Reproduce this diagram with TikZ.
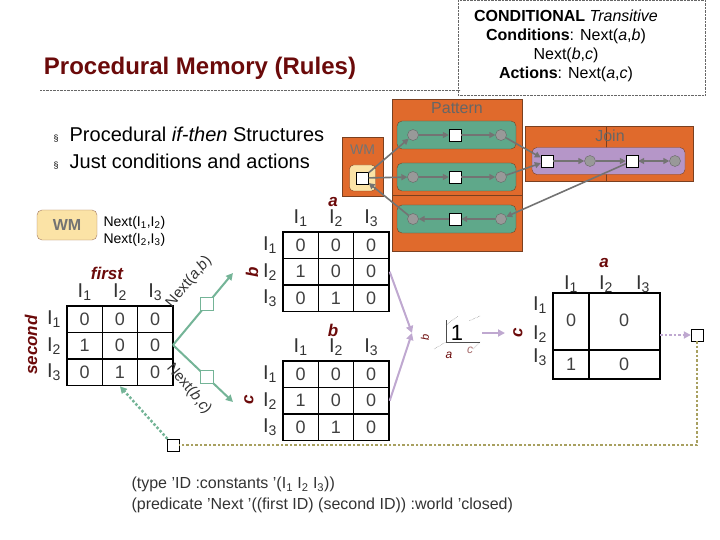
\documentclass[tikz,border=0pt]{standalone}
\usepackage{fontspec}
\setmainfont{Liberation Sans}
\usetikzlibrary{arrows.meta, positioning}
\definecolor{darkred}{HTML}{6B0A0A}
\definecolor{rete}{HTML}{E06A2C}
\definecolor{reteedge}{HTML}{7A4020}
\definecolor{patgreen}{HTML}{5FA88A}
\definecolor{joinpurple}{HTML}{B596C8}
\definecolor{wmcream}{HTML}{FBE3A6}
\definecolor{lilac}{HTML}{BFA8D0}
\definecolor{mint}{HTML}{74B497}
\definecolor{olive}{HTML}{A8A060}
\tikzset{
  cell/.style={draw, line width=1.6pt, minimum width=35.3pt, minimum height=26.5pt, inner sep=0pt, font=\fontsize{18}{18}\selectfont\color{black!75}},
  lab/.style={font=\fontsize{20}{20}\selectfont\color{black!80}},
  var/.style={font=\fontsize{17}{17}\selectfont\bfseries\itshape, text=darkred},
  box/.style={draw=reteedge, fill=rete},
  row/.style={draw=reteedge, fill=patgreen, rounded corners=5pt, minimum width=119pt, minimum height=28pt},
  dot/.style={circle, draw=black!60, fill=black!40, minimum size=11pt, inner sep=0pt},
  sq/.style={draw=black, fill=white, minimum size=12pt, inner sep=0pt},
  flow/.style={draw=black!55, line width=1.6pt, -{Triangle[length=6pt,width=6pt]}},
  small/.style={font=\fontsize{15}{17}\selectfont\color{black!80}}
}
\begin{document}
\begin{tikzpicture}[x=1pt, y=-1pt]
    \useasboundingbox (0,0) rectangle (720,540);

    % Title and rule box
    \node (title) [font=\fontsize{24}{24}\selectfont\bfseries, text=darkred] at (200,68) {Procedural Memory (Rules)};
    \draw [densely dotted, black!60] (40,90) -- (460,90);
    \draw [densely dotted, black!60] (458,0) rectangle (705,95);
    \node (rule) [font=\fontsize{16}{19}\selectfont, align=center] at (566,46)
      {\textbf{CONDITIONAL} \textit{Transitive}\\ \textbf{Conditions}: Next(\textit{a},\textit{b})\\ Next(\textit{b},\textit{c})\\ \textbf{Actions}: Next(\textit{a},\textit{c})};

    % Bullets
    \node (b1) [anchor=west, font=\fontsize{20}{20}\selectfont] at (50,135) {{\small\S}\ \ Procedural \textit{if-then} Structures};
    \node (b2) [anchor=west, font=\fontsize{20}{20}\selectfont] at (50,162) {{\small\S}\ \ Just conditions and actions};

    % Rete network
    \draw [box] (342,137) rectangle (383,196);
    \node (wmlab) [font=\fontsize{14}{14}\selectfont, text=black!55] at (362.5,150) {WM};
    \node (wmin) [draw=reteedge, fill=wmcream, rounded corners=4pt, minimum size=26pt] at (362.5,178) {};
    \node (wm) [sq] at (362.5,178) {};
    \draw [box] (392,99) rectangle (522,195);
    \draw [box] (392,195) rectangle (522,251);
    \node (patlab) [font=\fontsize{16}{16}\selectfont, text=black!60] at (457,108) {Pattern};
    \draw [box] (525,126) rectangle (606,181);
    \draw [box] (606,126) rectangle (693,181);
    \node (joinlab) [font=\fontsize{16}{16}\selectfont, text=black!60] at (610,136) {Join};
    \foreach \r/\y in {1/135, 2/177, 3/219} {
      \node (row\r) [row] at (456.5,\y) {};
      \node (p\r a) [dot] at (413,\y) {};
      \node (p\r b) [sq] at (455,\y) {};
      \node (p\r c) [dot] at (501,\y) {};
    }
    \node (jrow) [draw=reteedge, fill=joinpurple, rounded corners=5pt, minimum width=153pt, minimum height=27pt] at (608.5,161) {};
    \node (j1) [sq] at (547,161) {};
    \node (j2) [dot] at (590,161) {};
    \node (j3) [sq] at (632,161) {};
    \node (j4) [dot] at (675,161) {};
    \draw [flow] (wm) -- (p1a);
    \draw [flow] (wm) -- (p2a);
    \draw [flow] (p3a) -- (wm);
    \draw [flow] (p1a) -- (p1b);
    \draw [flow] (p1b) -- (p1c);
    \draw [flow] (p2a) -- (p2b);
    \draw [flow] (p2b) -- (p2c);
    \draw [flow] (p3c) -- (p3b);
    \draw [flow] (p3b) -- (p3a);
    \draw [flow] (p1c) -- (j1);
    \draw [flow] (p2c) -- (j1);
    \draw [flow] (j1) -- (j2);
    \draw [flow] (j2) -- (j3);
    \draw [flow, {Triangle[length=6pt,width=6pt]}-{Triangle[length=6pt,width=6pt]}] (j3) -- (j4);
    \draw [flow] (j3) -- (p3c);

    % Working memory facts
    \node (wmtag) [draw=reteedge!70, fill=wmcream, rounded corners=5pt, minimum width=60pt, minimum height=30pt] at (67,225) {};
    \node (wmtxt) [font=\fontsize{16}{16}\selectfont\bfseries, text=black!55] at (67,225) {WM};
    \node (facts) [small, anchor=west, align=left, font=\fontsize{14}{17}\selectfont] at (100,231) {Next(I\textsubscript{1},I\textsubscript{2})\\ Next(I\textsubscript{2},I\textsubscript{3})};

    % Matrices
    \foreach \m/\x/\y/\vals in {f/67/306/{0,0,0,1,0,0,0,1,0}, a/283/232/{0,0,0,1,0,0,0,1,0}, b/283/361/{0,0,0,1,0,0,0,1,0}} {
      \foreach \v [count=\k from 0] in \vals {
        \pgfmathtruncatemacro{\i}{div(\k,3)}
        \pgfmathtruncatemacro{\j}{mod(\k,3)}
        \node (\m-\i-\j) [cell] at ({\x+17.65+35.3*\j},{\y+13.25+26.5*\i}) {\v};
      }
      \foreach \j [count=\n] in {0,1,2} {
        \node [lab] at ({\x+17.65+35.3*\j},{\y-14}) {I\textsubscript{\n}};
        \node [lab] at ({\x-13},{\y+13.25+26.5*\j}) {I\textsubscript{\n}};
      }
    }
    \node (first) [var] at (107,273) {first};
    \node (second) [var, rotate=90] at (31,345) {second};
    \node (va) [var] at (333,202) {a};
    \node (vb) [var, rotate=90] at (252,272) {b};
    \node (vb2) [var] at (333,330) {b};
    \node (vc) [var, rotate=90] at (249,400) {c};

    % Result matrix
    \draw [line width=1.6pt] (553,293) rectangle (660,379);
    \draw [line width=1.6pt] (589,293) -- (589,379) (553,350) -- (660,350);
    \node (r11) [cell, draw=none] at (571,320) {0};
    \node (r12) [cell, draw=none] at (624,320) {0};
    \node (r21) [cell, draw=none] at (571,364) {1};
    \node (r22) [cell, draw=none] at (624,364) {0};
    \node (ra) [var] at (604,263) {a};
    \foreach \n/\xx in {1/571, 2/606, 3/643} \node [lab] at (\xx,284) {I\textsubscript{\n}};
    \foreach \n/\yy in {1/305, 2/334, 3/357} \node [lab] at (540,\yy) {I\textsubscript{\n}};
    \node (rc) [var, rotate=90] at (518,333) {c};

    % Branches
    \coordinate (fork) at (173,345);
    \coordinate (upend) at (233,273);
    \coordinate (downend) at (233,402);
    \draw [mint, line width=2pt, -{Triangle[length=7pt,width=7pt]}] (fork) -- (upend);
    \draw [mint, line width=2pt, -{Triangle[length=7pt,width=7pt]}] (fork) -- (downend);
    \node (sqab) [sq, draw=mint, minimum size=13pt] at (207,304) {};
    \node (sqbc) [sq, draw=mint, minimum size=13pt] at (207,377) {};
    \node [small, rotate=50] at (189,282) {Next(\textit{a},\textit{b})};
    \node [small, rotate=-50] at (189,389) {Next(\textit{b},\textit{c})};

    % Join cube
    \coordinate (mid) at (412,333);
    \draw [lilac, line width=2pt, -{Triangle[length=7pt,width=7pt]}] (a-1-2.east) -- (mid);
    \draw [lilac, line width=2pt, -{Triangle[length=7pt,width=7pt]}] (b-1-2.east) -- (mid);
    \node [var, font=\fontsize{11}{11}\selectfont\itshape, rotate=90] at (425,337) {b};
    \draw [black!70, densely dotted] (434,349) -- (446,342) (446,325) -- (458,316) (473,349) -- (480,342) (480,316) -- (469,321);
    \draw [black!70] (446,320) -- (446,342) -- (480,342);
    \node (one) [font=\fontsize{22}{22}\selectfont] at (457,333) {1};
    \node [var, font=\fontsize{12}{12}\selectfont\itshape] at (449,355) {a};
    \node [var, font=\fontsize{12}{12}\selectfont\itshape, text=darkred!60] at (470,350) {c};
    \draw [lilac, line width=2pt, -{Triangle[length=7pt,width=7pt]}] (482,333) -- (505,333);

    % Feedback
    \node (out) [sq] at (697,335) {};
    \node (back) [sq] at (173,445) {};
    \draw [lilac, line width=2.5pt, dotted, -{Triangle[length=7pt,width=7pt]}] (660,335) -- (out);
    \draw [olive, line width=2.5pt, dotted] (out) |- (back);
    \draw [mint, line width=2.5pt, dotted, -{Triangle[length=7pt,width=7pt]}] (back) -- (f-2-1.south);

    % Definitions
    \node (defs) [anchor=west, align=left, font=\fontsize{16}{21}\selectfont, text=black!80] at (128,495)
      {(type 'ID :constants '(I\textsubscript{1} I\textsubscript{2} I\textsubscript{3}))\\ (predicate 'Next '((first ID) (second ID)) :world 'closed)};
\end{tikzpicture}
\end{document}
